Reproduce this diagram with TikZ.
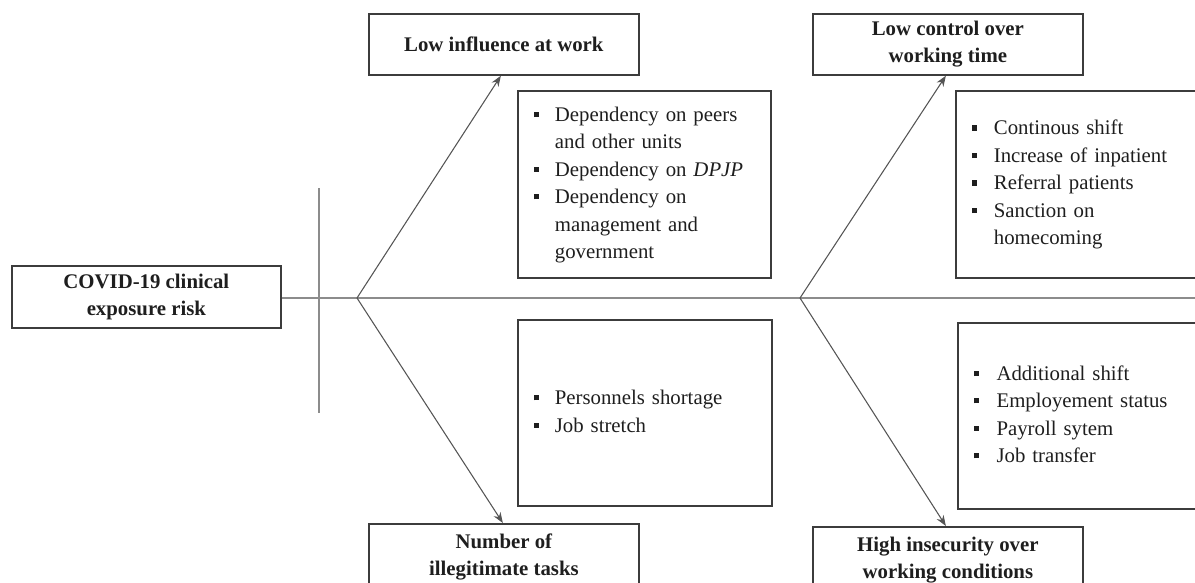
\documentclass[tikz,border=0pt]{standalone}
\usepackage{fontspec}
\setmainfont{Liberation Serif}
\usetikzlibrary{arrows.meta}
\definecolor{boxline}{HTML}{3C3C3C}
\definecolor{conline}{HTML}{555555}
\definecolor{spinecol}{HTML}{8C8C8C}
\definecolor{txt}{HTML}{1E1E1E}
\newcommand\bul{\rule[0.2em]{0.26em}{0.26em}}
\tikzset{
  x=0.75pt, y=-0.75pt,
  titlebox/.style={draw=boxline, line width=1.3pt, anchor=north west, align=center,
    text=txt, font=\fontsize{15.6}{20.5}\selectfont\bfseries, inner sep=0pt},
  detailbox/.style={draw=boxline, line width=1.3pt, anchor=north west, align=left,
    text=txt, font=\fontsize{15.6}{20.6}\selectfont, inner xsep=12pt, inner ysep=0pt},
  conn/.style={draw=conline, line width=0.8pt, -{Stealth[length=8pt,width=6pt]}},
  spine/.style={draw=spinecol, line width=1.1pt},
}
\begin{document}
\begin{tikzpicture}
\useasboundingbox (0,0) rectangle (1195,582);
\clip (0,0) rectangle (1195,582);
% title boxes
\node[titlebox, minimum width=269*0.75pt, minimum height=62*0.75pt] (risk) at (11,265) {COVID-19 clinical\\exposure risk};
\node[titlebox, minimum width=270*0.75pt, minimum height=61*0.75pt] (inf) at (368,13) {Low influence at work};
\node[titlebox, minimum width=270*0.75pt, minimum height=61*0.75pt] (ctrl) at (812,13) {Low control over\\working time};
\node[titlebox, minimum width=270*0.75pt, minimum height=66*0.75pt] (ill) at (368,523) {Number of\\illegitimate tasks};
\node[titlebox, minimum width=270*0.75pt, minimum height=66*0.75pt] (insec) at (812,526) {High insecurity over\\working conditions};
% detail boxes
\node[detailbox, text width=(253-32)*0.75pt, minimum height=187*0.75pt] (d1) at (517,90) {%
\begin{tabular}{@{}p{15.75pt}@{}l@{}}
\bul & Dependency on peers\\
 & and other units\\
\bul & Dependency on \textit{DPJP}\\
\bul & Dependency on\\
 & management and\\
 & government
\end{tabular}};
\node[detailbox, text width=(254-32)*0.75pt, minimum height=186*0.75pt] (d2) at (517,319) {%
\begin{tabular}{@{}p{15.75pt}@{}l@{}}
\bul & Personnels shortage\\
\bul & Job stretch
\end{tabular}};
\node[detailbox, text width=(260-32)*0.75pt, minimum height=187*0.75pt] (d3) at (955,90) {%
\begin{tabular}{@{}p{16.5pt}@{}l@{}}
\bul & Continous shift\\
\bul & Increase of inpatient\\
\bul & Referral patients\\
\bul & Sanction on\\
 & homecoming
\end{tabular}};
\node[detailbox, text width=(260-32)*0.75pt, minimum height=186*0.75pt] (d4) at (957,322) {%
\begin{tabular}{@{}p{17pt}@{}l@{}}
\bul & Additional shift\\
\bul & Employement status\\
\bul & Payroll sytem\\
\bul & Job transfer
\end{tabular}};
% spine and branches
\coordinate (spineend) at (1200,298);
\coordinate (o1) at (357,298);
\coordinate (o2) at (800,298);
\coordinate (vtop) at (319,188);
\coordinate (vbot) at (319,413);
\draw[spine] (risk.east |- o1) -- (spineend);
\draw[spine] (vtop) -- (vbot);
\draw[conn] (o1) -- ([xshift=-3*0.75pt]inf.south);
\draw[conn] (o1) -- ([xshift=-1*0.75pt]ill.north);
\draw[conn] (o2) -- ([xshift=-2*0.75pt]ctrl.south);
\draw[conn] (o2) -- ([xshift=-2*0.75pt]insec.north);
\end{tikzpicture}
\end{document}
